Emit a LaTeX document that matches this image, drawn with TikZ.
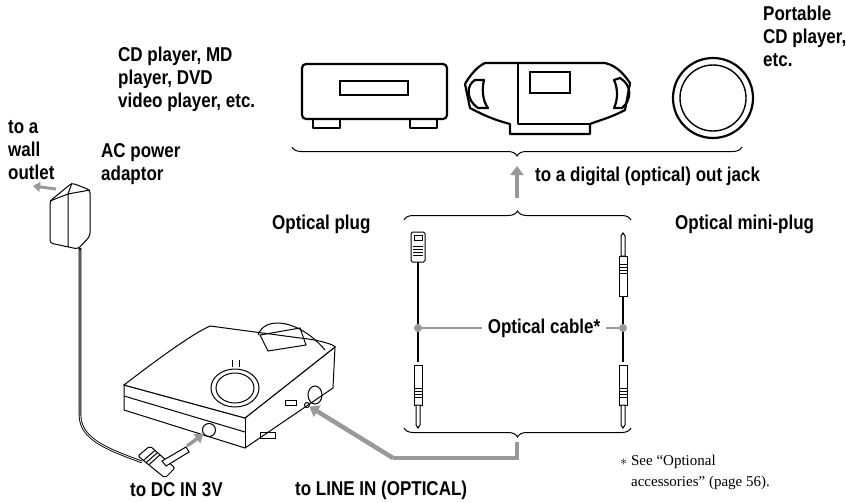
\documentclass[tikz,border=0pt]{standalone}
\usepackage{fontspec}
\setmainfont{Liberation Sans}[FakeStretch=0.85]
\newfontfamily\fnserif{Liberation Serif}
\usetikzlibrary{decorations.pathreplacing,arrows.meta,calc}
\begin{document}
\begin{tikzpicture}[x=1pt,y=-1pt,
  lab/.style={font=\fontsize{20}{23}\selectfont\bfseries,align=left,inner sep=0pt},
  dev/.style={line width=2.2pt,line join=round},
  thin/.style={line width=1pt},
  grarrow/.style={gray!80,line width=4.5pt,-{Triangle[length=9pt,width=13pt]}},
  brace/.style={thin,decorate,decoration={brace,amplitude=9pt}}]
\useasboundingbox (0,0) rectangle (846,503);
% labels
\node[lab,anchor=north west] (t1) at (118,47) {CD player, MD\\player, DVD\\video player, etc.};
\node[lab,anchor=north west] (t2) at (763,6) {Portable\\CD player,\\etc.};
\node[lab,anchor=north west] (t3) at (8,120) {to a\\wall\\outlet};
\node[lab,anchor=north west] (t4) at (101,143) {AC power\\adaptor};
\node[lab,anchor=west] (t5) at (535,176) {to a digital (optical) out jack};
\node[lab,anchor=west] (t6) at (272,224) {Optical plug};
\node[lab,anchor=west] (t7) at (675,224) {Optical mini-plug};
\node[lab] (t8) at (544,328) {Optical cable*};
\node[lab,anchor=west] (t9) at (130,490) {to DC IN 3V};
\node[lab,anchor=west] (t10) at (295,490) {to LINE IN (OPTICAL)};
\node[font=\fnserif\fontsize{15}{21}\selectfont,align=left,anchor=north west,inner sep=0pt] (t11) at (620,455) {$*$ See “Optional\\\phantom{$*$ }accessories” (page 56).};
% deck
\draw[dev,rounded corners=4pt] (302,64) rectangle (447,119);
\draw[line width=1.6pt] (340,81) rectangle (408,95);
\draw[dev] (313,119) rectangle (340,128) (410,119) rectangle (437,128);
% boombox
\draw[dev] (485,63) -- (605,63) .. controls (618,66) and (625,76) .. (630,83)
  -- (625,110) .. controls (610,118) and (600,120) .. (590,124) -- (590,134) -- (510,134) -- (510,124)
  .. controls (495,120) and (485,116) .. (470,108) -- (465,84) .. controls (470,75) and (478,66) .. (485,63) -- cycle;
\draw[dev] (518,63) -- (518,124) -- (590,124);
\draw[line width=1.6pt] (530,72) rectangle (570,93);
\draw[dev] (475,80) .. controls (466,85) and (466,100) .. (478,108) -- (488,108) .. controls (482,100) and (482,88) .. (484,80) -- cycle;
\draw[dev] (620,78) .. controls (632,85) and (632,100) .. (622,108) -- (614,108) .. controls (618,100) and (618,88) .. (614,80) -- cycle;
% portable CD
\draw[dev] (713,98) circle (40);
\draw[line width=1.4pt] (713,98) circle (33);
% braces
\draw[brace] (742,147) -- (292,147);
\draw[brace] (404,220) -- (631,220);
\draw[grarrow] (517,198) -- (517,166);
\draw[brace] (631,428) -- (404,428);
\coordinate (dtip) at (517,442);
% cables
\draw[line width=2pt] (418,262) -- (418,362);
\draw[line width=2pt] (623,283) -- (623,362);
% optical plug top
\draw[thin,fill=white,rounded corners=1.5pt] (411,232) rectangle (425,262);
\draw[thin] (414,235) rectangle (422,240);
\foreach \y in {246,249,252,255} \draw[thin] (413,\y) -- (423,\y);
% mini plugs
\newcommand{\mplug}[3]{%
  \draw[thin,fill=white] (#1-4,#2) rectangle (#1+4,#2+40*#3);
  \foreach \k in {8,11,14,17} \draw[thin] (#1-4,#2+\k*#3) -- (#1+4,#2+\k*#3);
  \draw[thin,fill=white] (#1-2,#2) -- (#1-2,#2-20*#3) -- (#1,#2-23*#3) -- (#1+2,#2-20*#3) -- (#1+2,#2) -- cycle;}
\mplug{623}{256}{1}
\mplug{418}{405}{-1}
\mplug{623}{405}{-1}
% optical cable labels
\draw[gray!80,line width=2pt] (418,328) -- ([xshift=-6pt]t8.west) ([xshift=6pt]t8.east) -- (623,328);
\fill[gray!80] (418,328) circle (4) (623,328) circle (4);
% adaptor
\draw[thin,fill=white,rounded corners=3pt] (50,201) -- (72,183) -- (90,190) -- (90,236) -- (78,249) -- (50,243) -- cycle;
\draw[thin] (72,183) -- (68,194) -- (68,247) (68,194) -- (50,201) (68,194) -- (90,190);
\draw[gray!80,line width=3pt,-{Triangle[length=7pt,width=10pt]}] (56,189) -- (33,186);
\draw[line width=2.6pt] (80,248) -- (80,415) .. controls (80,440) and (110,450) .. (142,462);
\draw[white,line width=0.8pt] (80,250) -- (80,415) .. controls (80,440) and (110,450) .. (142,462);
% DC plug (right-angle)
\draw[thin,fill=white,rounded corners=2pt] (138,456) -- (150,446) -- (175,468) -- (165,478) -- cycle;
\foreach \t in {0.2,0.3,0.4} \draw[thin] ($(138,456)!\t!(165,478)$) -- ($(150,446)!\t!(175,468)$);
\draw[thin,fill=white] (162,461) -- (186,447) -- (189,452) -- (166,466) -- cycle;
% MD player
\draw[thin,fill=white] (124,385) -- (124,410) -- (245,448) -- (333,388) -- (335,347) -- (245,418) -- cycle;
\draw[thin,fill=white] (124,385) .. controls (150,365) and (190,335) .. (210,326) -- (300,338) .. controls (320,340) and (335,345) .. (335,347) -- (245,418) -- cycle;
\draw[thin] (245,418) -- (245,448);
\draw[thin] (124,396) -- (245,432);
\draw[thin] (258,335) .. controls (265,315) and (300,320) .. (325,350);
\draw[thin] (260,335) -- (300,328) -- (306,345) -- (268,351) -- cycle;
\draw[thin] (235,388) ellipse (24 and 19);
\draw[thin] (235,388) ellipse (19 and 15);
\draw[thin] (232,367) -- (232,360) (239,367) -- (239,360);
\draw[thin] (285,400) rectangle (296,405);
\draw[thin] (260,432) rectangle (275,438);
\draw[thin] (315,395) ellipse (7 and 9);
\node[draw,circle,thin,minimum size=13pt,inner sep=0pt] (dcj) at (209,430) {};
\node[draw,circle,thin,minimum size=5pt,inner sep=0pt] (lij) at (307,405) {};
\draw[gray!80,line width=3.5pt,-{Triangle[length=8pt,width=11pt]}] (187,446) -- (dcj);
\draw[gray!80,line width=4pt] (dtip) -- (517,458) -- (393,458);
\draw[grarrow] (393,458) -- (lij);
\end{tikzpicture}
\end{document}
